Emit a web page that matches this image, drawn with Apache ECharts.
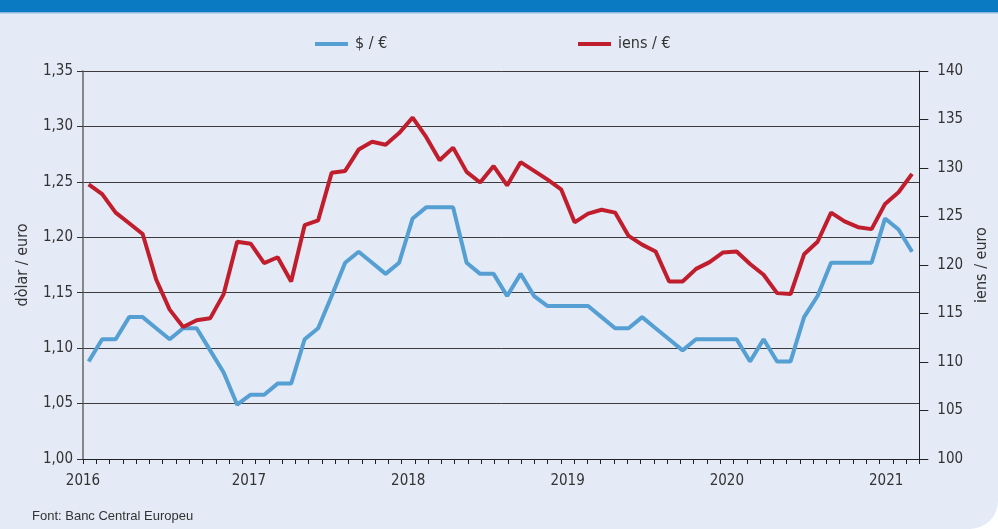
<!DOCTYPE html>
<html>
<head>
<meta charset="utf-8">
<script src="https://cdn.jsdelivr.net/npm/echarts@6/dist/echarts.min.js"></script>
<style>
  html, body { margin: 0; padding: 0; background: #ffffff; }
  #chart { width: 998px; height: 529px; }
</style>
</head>
<body>
<div id="chart"></div>
<script>
// dades mensuals, gener 2016 - 2021
var years = ['2016', '2017', '2018', '2019', '2020', '2021'];
var dolarEuro = [1.088, 1.108, 1.108, 1.128, 1.128, 1.118, 1.108, 1.118, 1.118, 1.098,
    1.078, 1.049, 1.058, 1.058, 1.068, 1.068, 1.108, 1.118, 1.147, 1.177,
    1.187, 1.177, 1.167, 1.177, 1.217, 1.227, 1.227, 1.227, 1.177, 1.167,
    1.167, 1.147, 1.167, 1.147, 1.138, 1.138, 1.138, 1.138, 1.128, 1.118,
    1.118, 1.128, 1.118, 1.108, 1.098, 1.108, 1.108, 1.108, 1.108, 1.088,
    1.108, 1.088, 1.088, 1.128, 1.147, 1.177, 1.177, 1.177, 1.177, 1.217,
    1.207, 1.187];
var iensEuro = [128.3, 127.3, 125.4, 124.3, 123.2, 118.5, 115.4, 113.6, 114.3, 114.5,
    117.0, 122.4, 122.2, 120.2, 120.8, 118.3, 124.1, 124.6, 129.5, 129.7,
    131.9, 132.7, 132.4, 133.6, 135.2, 133.2, 130.8, 132.1, 129.6, 128.5,
    130.2, 128.2, 130.6, 129.7, 128.8, 127.8, 124.4, 125.3, 125.7, 125.4,
    123.0, 122.1, 121.4, 118.3, 118.3, 119.6, 120.3, 121.3, 121.4, 120.1,
    119.0, 117.1, 117.0, 121.1, 122.4, 125.4, 124.5, 123.9, 123.7, 126.3,
    127.5, 129.4];

var nameDolar = '$ / €';
var nameIens = 'iens / €';
var font = "'Liberation Sans Narrow', 'DejaVu Sans Condensed', 'Liberation Sans', sans-serif";
var textColor = '#333333';

var chart = echarts.init(document.getElementById('chart'));

var yearValues = years.map(function (y, k) { return k === 0 ? 0 : k * 12 + 0.5; });

var option = {
    animation: false,
    backgroundColor: 'transparent',
    textStyle: { fontFamily: font },
    graphic: [
        {
            type: 'rect', z: -10,
            shape: { x: 0, y: 0, width: 998, height: 529, r: [0, 0, 28, 0] },
            style: { fill: '#e4eaf6' }
        },
        {
            type: 'rect', z: -9,
            shape: { x: 0, y: 0, width: 998, height: 12 },
            style: { fill: '#0a7bc2' }
        },
        {
            type: 'rect', z: -9,
            shape: { x: 0, y: 12, width: 998, height: 1.5 },
            style: { fill: '#8fbbe3' }
        },
        {
            type: 'text', left: 32, top: 510,
            style: {
                text: 'Font: Banc Central Europeu',
                font: "13px 'Liberation Sans', Arial, sans-serif",
                fill: textColor
            }
        }
    ],
    legend: [
        {
            left: 310, top: 31,
            icon: 'rect', itemWidth: 33, itemHeight: 4,
            data: [nameDolar],
            textStyle: { fontSize: 16, color: textColor, fontFamily: font, padding: [0, 0, 0, 2] }
        },
        {
            left: 573, top: 31,
            icon: 'rect', itemWidth: 33, itemHeight: 4,
            data: [nameIens],
            textStyle: { fontSize: 16, color: textColor, fontFamily: font, padding: [0, 0, 0, 2] }
        }
    ],
    grid: { left: 83, right: 75, top: 71, bottom: 70 },
    xAxis: [
        {
            type: 'value', min: 0, max: 63, interval: 1,
            axisLine: { onZero: false, lineStyle: { color: '#222', width: 1 } },
            axisTick: { show: true, length: 5, lineStyle: { color: '#222' } },
            splitLine: { show: false },
            axisLabel: {
                customValues: yearValues,
                margin: 15,
                fontSize: 15,
                color: textColor,
                fontFamily: font,
                formatter: function (v) {
                    return years[Math.round((v - 0.5) / 12)] || years[0];
                }
            }
        },
        {
            type: 'value', min: -0.42, max: 61.54, show: false,
            axisLine: { onZero: false }
        }
    ],
    yAxis: [
        {
            type: 'value', min: 1.0, max: 1.35, interval: 0.05,
            name: 'dòlar / euro', nameLocation: 'middle', nameGap: 52, nameRotate: 90,
            nameTextStyle: { fontSize: 16, color: textColor, fontFamily: font },
            axisLine: { show: true, onZero: false, lineStyle: { color: '#666', width: 1.5 } },
            axisTick: { show: true, length: 6, lineStyle: { color: '#333' } },
            splitLine: { show: true, lineStyle: { color: '#3c3c3c', width: 1 } },
            axisLabel: {
                margin: 10, fontSize: 15, color: textColor, fontFamily: font,
                formatter: function (v) { return v.toFixed(2).replace('.', ','); }
            }
        },
        {
            type: 'value', min: 100, max: 140, interval: 5, position: 'right',
            name: 'iens / euro', nameLocation: 'middle', nameGap: 52, nameRotate: 90,
            nameTextStyle: { fontSize: 16, color: textColor, fontFamily: font },
            axisLine: { show: true, onZero: false, lineStyle: { color: '#222', width: 1 } },
            axisTick: { show: true, length: 9, lineStyle: { color: '#222' } },
            splitLine: { show: false },
            axisLabel: { margin: 18, fontSize: 15, color: textColor, fontFamily: font }
        }
    ],
    series: [
        {
            name: nameDolar,
            type: 'line',
            xAxisIndex: 1, yAxisIndex: 0,
            symbol: 'none',
            color: '#559fd3',
            lineStyle: { width: 4, color: '#559fd3' },
            data: dolarEuro.map(function (v, i) { return [i, v]; })
        },
        {
            name: nameIens,
            type: 'line',
            xAxisIndex: 1, yAxisIndex: 1,
            symbol: 'none',
            color: '#c11e2d',
            lineStyle: { width: 4, color: '#c11e2d' },
            data: iensEuro.map(function (v, i) { return [i, v]; })
        }
    ]
};
chart.setOption(option);
</script>
</body>
</html>
